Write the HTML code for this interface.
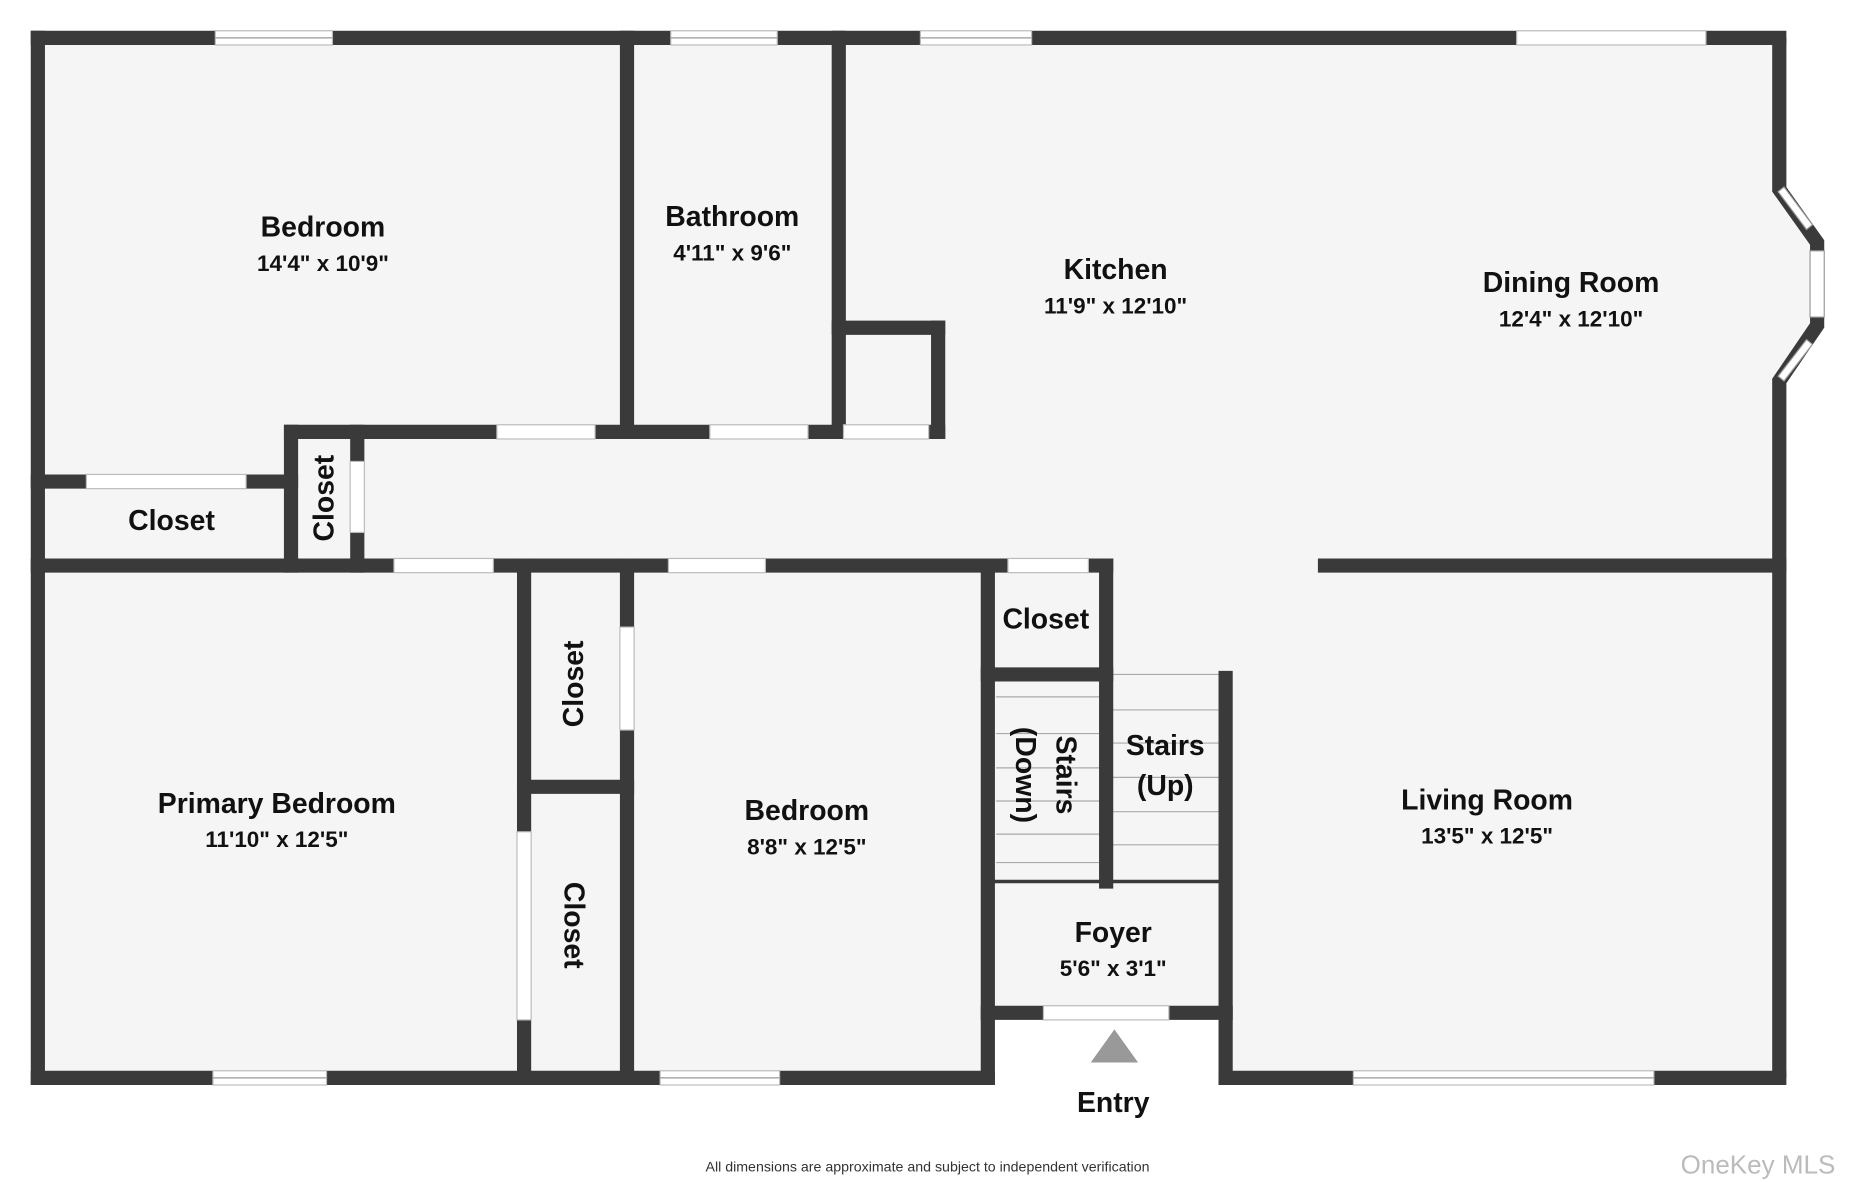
<!DOCTYPE html>
<html><head><meta charset="utf-8"><style>
html,body{margin:0;padding:0;background:#fff;}
svg{display:block}
text{font-family:"Liberation Sans",sans-serif;font-weight:bold;fill:#111;text-anchor:middle}
.n{font-size:24px}
.d{font-size:19px}
</style></head><body>
<svg width="1855" height="1182" viewBox="0 0 1568 999" preserveAspectRatio="none" xmlns="http://www.w3.org/2000/svg">
<rect width="1568" height="999" fill="#fff"/>
<polygon points="32,32 1504,32 1504,160 1536,205 1536,275 1504,322 1504,911 1036,911 1036,856 835,856 835,911 32,911" fill="#f5f5f5"/>
<g fill="none" stroke="#aaa" stroke-width="1">
<line x1="842" y1="589" x2="930" y2="589"/><line x1="842" y1="620" x2="930" y2="620"/><line x1="842" y1="649" x2="930" y2="649"/><line x1="842" y1="677" x2="930" y2="677"/><line x1="842" y1="705" x2="930" y2="705"/><line x1="842" y1="729" x2="930" y2="729"/>
<line x1="940" y1="570" x2="1030" y2="570"/><line x1="940" y1="600" x2="1030" y2="600"/><line x1="940" y1="628" x2="1030" y2="628"/><line x1="940" y1="657" x2="1030" y2="657"/><line x1="940" y1="686" x2="1030" y2="686"/><line x1="940" y1="714" x2="1030" y2="714"/>
</g>
<g stroke="#3a3a3a" stroke-width="12" fill="none" stroke-linecap="square">
<line x1="32" y1="32" x2="1504" y2="32"/>
<line x1="32" y1="32" x2="32" y2="911"/>
<line x1="32" y1="911" x2="835" y2="911"/>
<line x1="1036" y1="911" x2="1504" y2="911"/>
<polyline points="1504,32 1504,160 1536,205 1536,275 1504,322 1504,911" stroke-linecap="butt"/>
<line x1="835" y1="478" x2="835" y2="911"/>
<line x1="1036" y1="573" x2="1036" y2="911"/>
<line x1="835" y1="856" x2="1036" y2="856"/>
<line x1="530" y1="32" x2="530" y2="365"/>
<line x1="709" y1="32" x2="709" y2="365"/>
<line x1="709" y1="277" x2="793" y2="277"/>
<line x1="793" y1="277" x2="793" y2="365"/>
<line x1="246" y1="365" x2="793" y2="365"/>
<line x1="32" y1="407" x2="246" y2="407"/>
<line x1="246" y1="365" x2="246" y2="478"/>
<line x1="302" y1="365" x2="302" y2="478"/>
<line x1="32" y1="478" x2="935" y2="478"/>
<line x1="1120" y1="478" x2="1504" y2="478"/>
<line x1="443" y1="478" x2="443" y2="911"/>
<line x1="530" y1="478" x2="530" y2="911"/>
<line x1="443" y1="665" x2="530" y2="665"/>
<line x1="935" y1="478" x2="935" y2="745"/>
<line x1="835" y1="570" x2="935" y2="570"/>
</g>
<line x1="835" y1="745" x2="1036" y2="745" stroke="#3a3a3a" stroke-width="3"/>
<g fill="#fff" stroke="#bbb" stroke-width="1">
<rect x="182" y="26" width="99" height="12"/><rect x="567" y="26" width="90" height="12"/><rect x="778" y="26" width="94" height="12"/><rect x="1282" y="26" width="160" height="12"/>
<rect x="180" y="905" width="96" height="12"/><rect x="558" y="905" width="101" height="12"/><rect x="1144" y="905" width="254" height="12"/>
<rect x="420" y="359" width="83" height="12"/><rect x="600" y="359" width="83" height="12"/><rect x="713" y="359" width="72" height="12"/>
<rect x="73" y="401" width="135" height="12"/><rect x="296" y="390" width="12" height="60"/>
<rect x="333" y="472" width="84" height="12"/><rect x="565" y="472" width="82" height="12"/><rect x="852" y="472" width="68" height="12"/>
<rect x="437" y="703" width="12" height="159"/><rect x="524" y="530" width="12" height="87"/>
<rect x="882" y="850" width="106" height="12"/>
</g>
<g stroke="#999" stroke-width="1">
<line x1="182" y1="32" x2="281" y2="32"/><line x1="567" y1="32" x2="657" y2="32"/><line x1="778" y1="32" x2="872" y2="32"/>
<line x1="180" y1="911" x2="276" y2="911"/><line x1="558" y1="911" x2="659" y2="911"/><line x1="1144" y1="911" x2="1398" y2="911"/>
</g>
<g fill="#fff" stroke="#999" stroke-width="1">
<polygon points="1508,158 1532,190 1527,194 1503,162"/>
<rect x="1530" y="212" width="12" height="56"/>
<polygon points="1527,287 1532,291 1508,322 1503,318"/>
</g>
<polygon points="942,870 922,898 962,898" fill="#999"/>
<text class="n" x="273" y="200">Bedroom</text><text class="d" x="273" y="229">14'4" x 10'9"</text>
<text class="n" x="619" y="191">Bathroom</text><text class="d" x="619" y="220">4'11" x 9'6"</text>
<text class="n" x="943" y="236">Kitchen</text><text class="d" x="943" y="265">11'9" x 12'10"</text>
<text class="n" x="1328" y="247">Dining Room</text><text class="d" x="1328" y="276">12'4" x 12'10"</text>
<text class="n" x="145" y="448">Closet</text>
<text class="n" transform="translate(282,421) rotate(-90)">Closet</text>
<text class="n" x="234" y="687">Primary Bedroom</text><text class="d" x="234" y="716">11'10" x 12'5"</text>
<text class="n" transform="translate(493,578) rotate(-90)">Closet</text>
<text class="n" transform="translate(477,782) rotate(90)">Closet</text>
<text class="n" x="682" y="693">Bedroom</text><text class="d" x="682" y="722">8'8" x 12'5"</text>
<text class="n" x="884" y="531">Closet</text>
<text class="n" transform="translate(893,655) rotate(90)">Stairs</text>
<text class="n" transform="translate(859,655) rotate(90)">(Down)</text>
<text class="n" x="985" y="638">Stairs</text><text class="n" x="985" y="672">(Up)</text>
<text class="n" x="1257" y="684">Living Room</text><text class="d" x="1257" y="713">13'5" x 12'5"</text>
<text class="n" x="941" y="796">Foyer</text><text class="d" x="941" y="825">5'6" x 3'1"</text>
<text class="n" x="941" y="940">Entry</text>
<text x="784" y="990" style="font-size:12px;font-weight:normal;fill:#333">All dimensions are approximate and subject to independent verification</text>
<text x="1486" y="992" style="font-size:22px;font-weight:normal;fill:#bbb">OneKey MLS</text>
</svg>
</body></html>
